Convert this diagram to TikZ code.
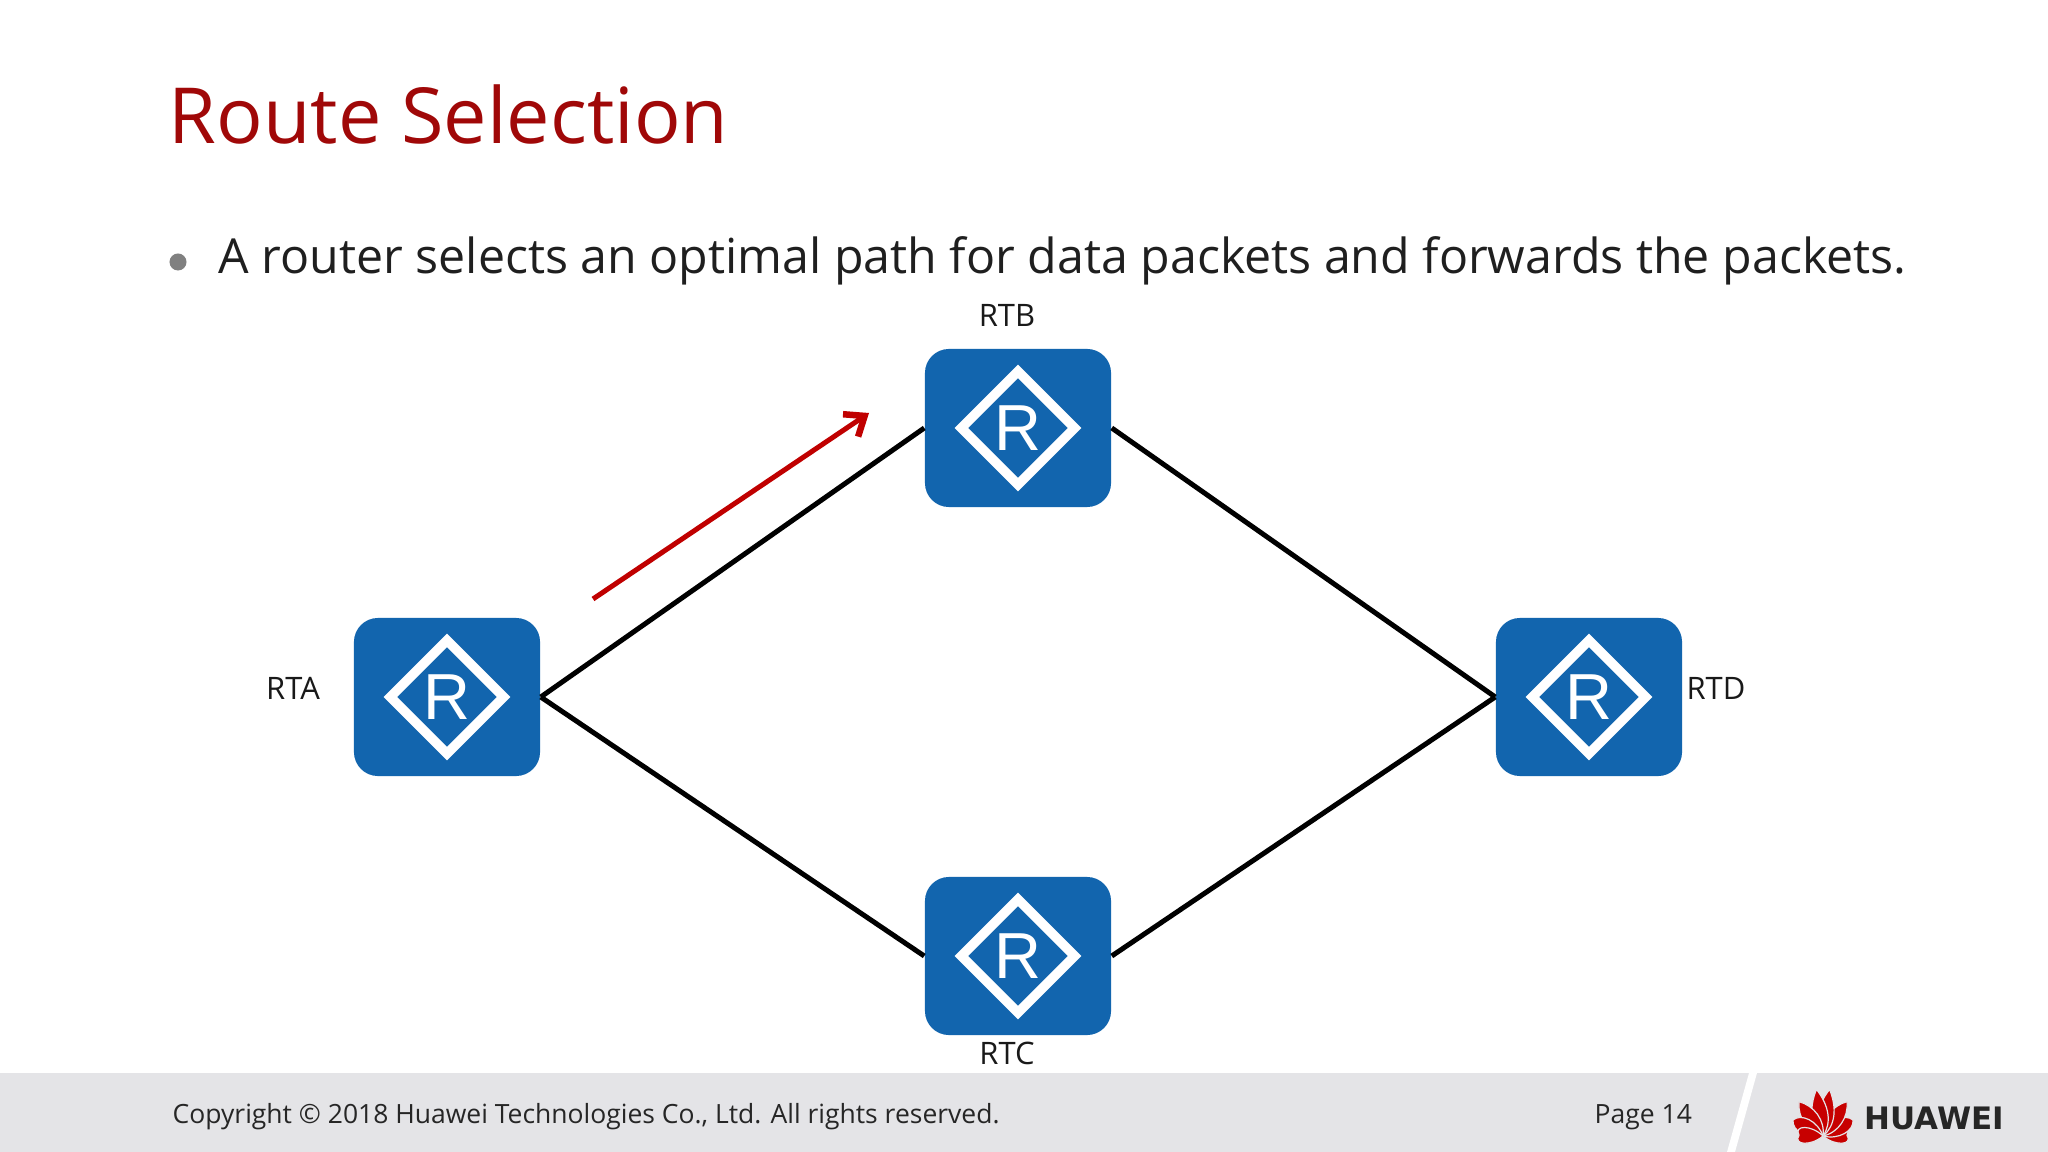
\documentclass[tikz,border=0pt]{standalone}
\usepackage{fontspec}
\setmainfont{Open Sans}
\newfontfamily\logofont{DejaVu Sans}
\newfontfamily\iconfont{Liberation Sans}
\usetikzlibrary{shapes.geometric, arrows.meta, positioning}
\definecolor{routerblue}{HTML}{1265AE}
\definecolor{titlered}{HTML}{A00808}
\definecolor{flowred}{HTML}{C00000}
\definecolor{footgray}{HTML}{E4E4E7}

\begin{document}
\begin{tikzpicture}[
    x=0.01cm, y=-0.01cm,
    router/.style={rectangle, fill=routerblue, rounded corners=0.24cm, minimum width=1.86cm, minimum height=1.58cm, inner sep=0pt, text=white,
      font=\iconfont\fontsize{18.5pt}{20pt}\selectfont,
      path picture={\node[diamond, sharp corners, draw=white, line width=0.095cm, aspect=1, minimum size=1.17cm, inner sep=0pt] at (path picture bounding box.center) {};}},
    routerlabel/.style={anchor=base, inner sep=0pt, font=\fontsize{8.8pt}{10pt}\selectfont, text=black!90},
    link/.style={line width=0.05cm, draw=black},
    flow/.style={-{Straight Barb[length=0.17cm, width=0.27cm, line width=0.065cm]}, line width=0.05cm, draw=flowred},
    foottext/.style={anchor=base west, inner sep=0pt, font=\fontsize{7.53pt}{10pt}\selectfont, text=black!85},
    petal/.style={fill=red!78!black, draw=footgray, line width=0.012cm}
]
\useasboundingbox (0,0) rectangle (2048,1152);
\fill[white] (0,0) rectangle (2048,1152);
% ---------------- heading ----------------
\node[anchor=base west, inner sep=0pt, text=titlered, font=\fontsize{22pt}{26pt}\selectfont] (title) at (168,144) {Route Selection};
\node[circle, fill=gray, minimum size=0.17cm, inner sep=0pt] (bullet) at (178,262) {};
\node[anchor=base west, inner sep=0pt, text=black!88, font=\fontsize{13.73pt}{17pt}\selectfont] (point) at (218,274) {A router selects an optimal path for data packets and forwards the packets.};
% ---------------- routers ----------------
\node[router] (rta) at (447,697) {R};
\node[router] (rtb) at (1018,428) {R};
\node[router] (rtc) at (1018,956) {R};
\node[router] (rtd) at (1589,697) {R};
\node[routerlabel] (rtalabel) at (293,699) {RTA};
\node[routerlabel] (rtblabel) at (1007,327) {RTB};
\node[routerlabel] (rtclabel) at (1007,1064) {RTC};
\node[routerlabel] (rtdlabel) at (1716,699) {RTD};
% ---------------- links ----------------
\draw[link] (rta.east) -- (rtb.west);
\draw[link] (rta.east) -- (rtc.west);
\draw[link] (rtb.east) -- (rtd.west);
\draw[link] (rtc.east) -- (rtd.west);
% selected path
\coordinate (flowstart) at (593,599);
\coordinate (flowend) at (869,413);
\draw[flow] (flowstart) -- (flowend);
% ---------------- footer ----------------
\fill[footgray] (0,1073) rectangle (2048,1152);
\fill[white] (1749,1073) -- (1757,1073) -- (1735,1152) -- (1727,1152) -- cycle;
\node[foottext] (copyright) at (172,1123) {Copyright © 2018 Huawei Technologies Co., Ltd. All rights reserved.};
\node[foottext] (page) at (1594,1123) {Page 14};
% logo
\foreach \ang/\len in {-88/24, -62/34, -35/42, -8/47, 8/47, 35/42, 62/34, 88/24}
    \fill[petal, shift={(1823,1136)}, rotate=\ang] (0,0) .. controls (-11,-12) and (-10,-30) .. (0,-\len) .. controls (10,-30) and (11,-12) .. (0,0);
\node[anchor=base west, inner sep=0pt, text=black!85, font=\logofont\bfseries\fontsize{8.8pt}{10pt}\selectfont] (brand) at (1864,1129) {HUAWEI};
\end{tikzpicture}
\end{document}
